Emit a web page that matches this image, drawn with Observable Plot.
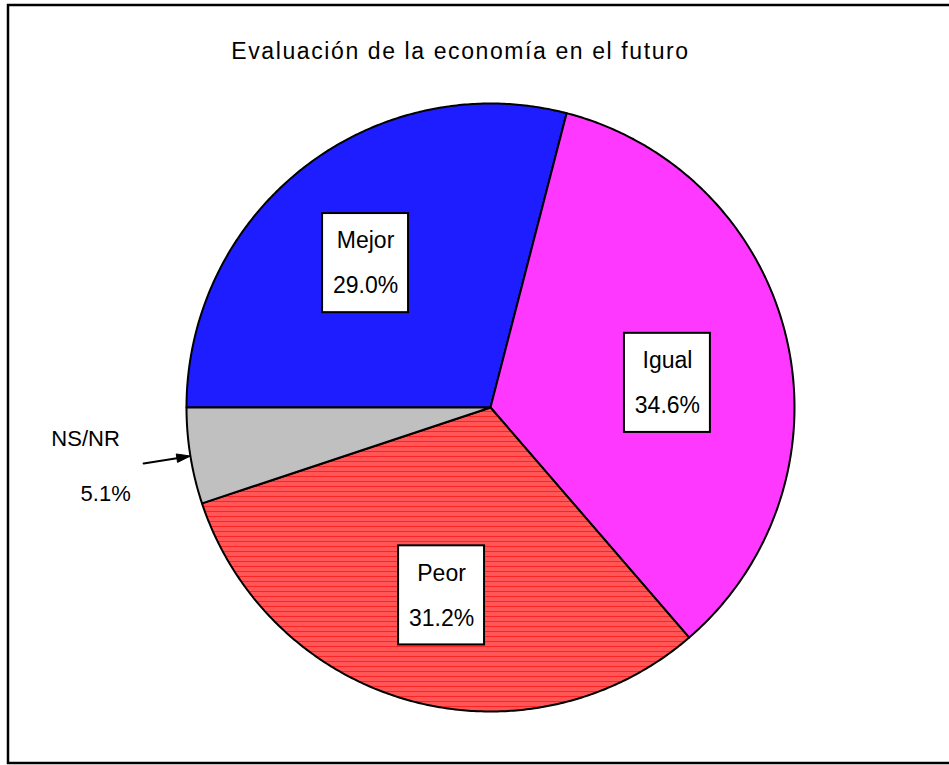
<!DOCTYPE html>
<html>
<head>
<meta charset="utf-8">
<script src="https://cdn.jsdelivr.net/npm/d3@7"></script>
<script src="https://cdn.jsdelivr.net/npm/@observablehq/plot@0.6"></script>
<style>
  html, body { margin: 0; padding: 0; background: #fff; }
  svg { display: block; }
</style>
</head>
<body>
<div id="chart"></div>
<script>
// ---- data ----
const title = "Evaluación de la economía en el futuro";
const categories = ["Mejor", "Igual", "Peor", "NS/NR"];
const values = [29.0, 34.6, 31.2, 5.1];
const valueLabels = ["29.0%", "34.6%", "31.2%", "5.1%"];

// ---- layout (not data) ----
const patternIds = ["pMejor", "pIgual", "pPeor", "pNSNR"];
// label box centres in pie units (radius = 1)
const boxCenters = [[-0.411, 0.475], [0.582, 0.081], [-0.161, -0.618]];
const boxHalfW = 0.1414, boxHalfH = 0.163;

const pie = d3.pie().sort(null).value(d => d).startAngle(-Math.PI / 2).endAngle(1.5 * Math.PI)(values);

// polygon points for each slice
const slicePts = pie.map((p, i) => {
  const pts = [{x: 0, y: 0, k: categories[i]}];
  const n = Math.max(2, Math.ceil((p.endAngle - p.startAngle) / (Math.PI / 360)));
  for (let j = 0; j <= n; j++) {
    const a = p.startAngle + (p.endAngle - p.startAngle) * j / n;
    pts.push({x: Math.sin(a), y: Math.cos(a), k: categories[i]});
  }
  pts.push({x: 0, y: 0, k: categories[i]});
  return pts;
});

const boxes = boxCenters.map(([cx, cy], i) => ({
  x1: cx - boxHalfW, x2: cx + boxHalfW, y1: cy - boxHalfH, y2: cy + boxHalfH,
  cx, cy, name: categories[i], lab: valueLabels[i]
}));

// NS/NR outside label
const nsMid = (pie[3].startAngle + pie[3].endAngle) / 2;
const tip = {x: Math.sin(nsMid), y: Math.cos(nsMid)};
const tail = {x: -1.141, y: -0.184};
const dirLen = Math.hypot(tip.x - tail.x, tip.y - tail.y);
const ux = (tip.x - tail.x) / dirLen, uy = (tip.y - tail.y) / dirLen;
const hl = 0.045, hw = 0.014;
const headBase = {x: tip.x - ux * hl, y: tip.y - uy * hl};
const nsShaft = [tail, headBase];
const nsHead = [
  tip,
  {x: headBase.x - uy * hw, y: headBase.y + ux * hw},
  {x: headBase.x + uy * hw, y: headBase.y - ux * hw},
  tip
];
const nsText = [{x: -1.332, y: -0.102, t: categories[3]}, {x: -1.266, y: -0.283, t: valueLabels[3]}];

const W = 949, H = 765;

const defs = () => {
  const g = d3.create("svg:defs");
  const mk = (id, w, h, bg, cells) => {
    const p = g.append("pattern").attr("id", id).attr("patternUnits", "userSpaceOnUse")
      .attr("width", w).attr("height", h);
    p.append("rect").attr("width", w).attr("height", h).attr("fill", bg);
    cells.forEach(([x, y, cw, ch, c]) => p.append("rect").attr("x", x).attr("y", y).attr("width", cw).attr("height", ch).attr("fill", c));
  };
  mk("pMejor", 2, 2, "#0000ff", [[0, 0, 1, 1, "#3a3aff"], [1, 1, 1, 1, "#3a3aff"]]);
  mk("pIgual", 2, 2, "#ff00ff", [[0, 0, 1, 1, "#ff70ff"], [1, 1, 1, 1, "#ff70ff"]]);
  mk("pPeor", 5, 5, "#ff2424", [[0, 2, 5, 1, "#ff8a8a"], [0, 4, 5, 1, "#ff8a8a"]]);
  mk("pNSNR", 2, 2, "#c0c0c0", []);
  return g.node();
};

const border = () => {
  return d3.create("svg:rect").attr("x", 8).attr("y", 5).attr("width", 945).attr("height", 758)
    .attr("fill", "none").attr("stroke", "#000").attr("stroke-width", 2.5).node();
};

const chart = Plot.plot({
  width: W,
  height: H,
  marginLeft: 186,
  marginRight: W - 794,
  marginTop: 103,
  marginBottom: H - 711,
  x: {domain: [-1, 1], axis: null},
  y: {domain: [-1, 1], axis: null},
  style: {fontFamily: "'Liberation Sans', Arial, sans-serif", background: "#fff"},
  marks: [
    defs,
    ...slicePts.map((pts, i) => Plot.line(pts, {
      x: "x", y: "y", fill: `url(#${patternIds[i]})`, stroke: "#000", strokeWidth: 2,
      strokeLinejoin: "round", curve: "linear"
    })),
    Plot.rect(boxes, {x1: "x1", x2: "x2", y1: "y1", y2: "y2", fill: "#fff", stroke: "#000", strokeWidth: 2}),
    Plot.text(boxes, {x: "cx", y: "cy", text: "name", dy: -22, fontSize: 23, fill: "#000"}),
    Plot.text(boxes, {x: "cx", y: "cy", text: "lab", dy: 23, fontSize: 23, fill: "#000"}),
    Plot.line(nsShaft, {x: "x", y: "y", stroke: "#000", strokeWidth: 2}),
    Plot.line(nsHead, {x: "x", y: "y", fill: "#000", stroke: "#000", strokeWidth: 1}),
    Plot.text(nsText, {x: "x", y: "y", text: "t", fontSize: 22, fill: "#000"}),
    Plot.text([title], {frameAnchor: "top", dx: -30, dy: -61, text: d => d, fontSize: 23, fill: "#000"}),
    border
  ]
});

// widen the title's letter spacing as in the reference
d3.select(chart).selectAll("text").filter(function() { return this.textContent === title; })
  .attr("letter-spacing", "1.6px");

document.getElementById("chart").append(chart);
</script>
</body>
</html>
